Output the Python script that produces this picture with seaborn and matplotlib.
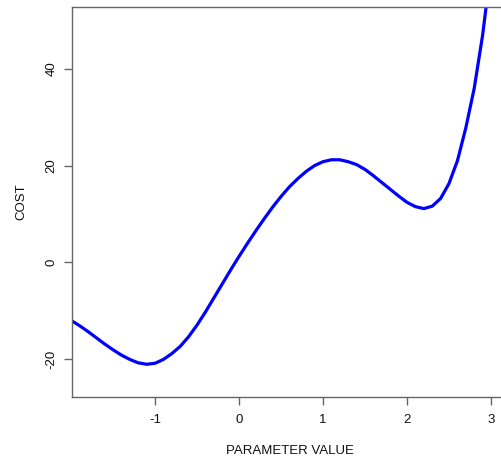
import matplotlib
matplotlib.use("Agg")
import matplotlib.pyplot as plt
import seaborn as sns
import pandas as pd

param_values = [-2.0, -1.9, -1.8, -1.7, -1.6, -1.5, -1.4, -1.3, -1.2, -1.1,
                -1.0, -0.9, -0.8, -0.7, -0.6, -0.5, -0.4, -0.3, -0.2, -0.1,
                0.0, 0.1, 0.2, 0.3, 0.4, 0.5, 0.6, 0.7, 0.8, 0.9,
                1.0, 1.1, 1.2, 1.3, 1.4, 1.5, 1.6, 1.7, 1.8, 1.9,
                2.0, 2.1, 2.2, 2.3, 2.4, 2.5, 2.6, 2.7, 2.8, 2.9, 3.0]
cost_values = [-12.0, -13.1, -14.3, -15.6, -16.9, -18.1, -19.2, -20.1, -20.8, -21.1,
               -20.9, -20.1, -18.9, -17.4, -15.4, -13.0, -10.3, -7.4, -4.5, -1.6,
               1.2, 3.9, 6.5, 9.0, 11.4, 13.6, 15.6, 17.3, 18.8, 20.0,
               20.8, 21.2, 21.2, 20.8, 20.2, 19.2, 17.9, 16.5, 15.1, 13.7,
               12.4, 11.5, 11.1, 11.6, 13.2, 16.3, 21.0, 27.8, 36.0, 47.0, 61.0]
x_ticks = [-1, 0, 1, 2, 3]
y_ticks = [-20, 0, 20, 40]
x_label = "PARAMETER VALUE"
y_label = "COST"

sns.set_style("white")
plt.rcParams["font.family"] = ["Liberation Sans", "DejaVu Sans"]

df = pd.DataFrame({"param": param_values, "cost": cost_values})

W, H = 501, 457
fig = plt.figure(figsize=(W / 100, H / 100), dpi=100)
left, right, top, bottom = 72, 508, 7, 397
ax = fig.add_axes([left / W, 1 - bottom / H, (right - left) / W, (bottom - top) / H])

sns.lineplot(data=df, x="param", y="cost", color="#0000ff", linewidth=2.3, ax=ax)

ax.set_xlim(-1.988, 3.202)
ax.set_ylim(-27.87, 52.8)
ax.set_xticks(x_ticks)
ax.set_xticklabels([str(t) for t in x_ticks])
ax.set_yticks(y_ticks)
ax.set_yticklabels([str(t) for t in y_ticks], rotation=90, va="center")

spine_col = "#666666"
for s in ax.spines.values():
    s.set_color(spine_col)
    s.set_linewidth(1.0)
ax.tick_params(axis="both", direction="out", length=5.5, width=1.0, color=spine_col,
               labelsize=9.5, labelcolor="#111111")
ax.tick_params(axis="x", pad=6.5)
ax.tick_params(axis="y", pad=4.8)
ax.tick_params(left=True, bottom=True)

ax.set_xlabel(x_label, fontsize=9.5, color="#111111", labelpad=14)
ax.set_ylabel(y_label, fontsize=9.5, color="#111111", labelpad=13)

fig.savefig("out.png", dpi=100)
